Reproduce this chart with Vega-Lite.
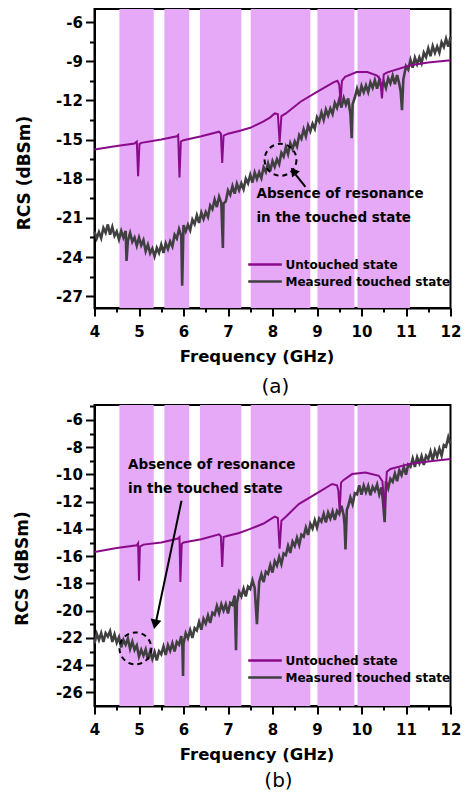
{
  "$schema": "https://vega.github.io/schema/vega-lite/v6.json",
  "padding": {"left": 12.5, "top": 8, "right": 0, "bottom": 0},
  "spacing": 6,
  "background": "white",
  "config": {
    "font": "DejaVu Sans",
    "view": {"stroke": "black", "strokeWidth": 2},
    "axis": {"grid": false, "domainColor": "black", "domainWidth": 2, "tickColor": "black", "tickWidth": 2, "labelColor": "black", "labelFont": "DejaVu Sans", "labelFontWeight": "bold", "labelFontSize": 15, "titleColor": "black", "titleFont": "DejaVu Sans", "titleFontWeight": "bold", "titleFontSize": 17, "zindex": 1, "labelFlush": false, "labelOverlap": false},
    "legend": {"orient": "none", "legendX": 162, "legendY": 247, "title": null, "symbolType": "M-2.4,0H2.4", "symbolSize": 196, "symbolStrokeWidth": 2.5, "labelFont": "DejaVu Sans", "labelFontWeight": "bold", "labelFontSize": 12, "labelColor": "black", "labelOffset": 12, "labelLimit": 0, "rowPadding": 2, "padding": 0}
  },
  "datasets": {
    "bands": [
      {"f": 4.56, "f2": 5.33}, {"f": 5.57, "f2": 6.13}, {"f": 6.37, "f2": 7.30},
      {"f": 7.51, "f2": 8.85}, {"f": 9.01, "f2": 9.84}, {"f": 9.91, "f2": 11.09}
    ],
    "aU": [
      {"f": 4.0, "v": -15.76}, {"f": 4.5, "v": -15.5}, {"f": 4.9, "v": -15.3}, {"f": 4.95, "v": -15.15}, {"f": 4.98, "v": -17.8}, {"f": 5.01, "v": -15.35}, {"f": 5.05, "v": -15.25}, {"f": 5.5, "v": -15.0}, {"f": 5.85, "v": -14.75}, {"f": 5.88, "v": -14.65}, {"f": 5.91, "v": -17.9}, {"f": 5.94, "v": -15.15}, {"f": 6.0, "v": -15.05}, {"f": 6.4, "v": -14.75}, {"f": 6.8, "v": -14.4}, {"f": 6.84, "v": -14.55}, {"f": 6.87, "v": -16.8}, {"f": 6.9, "v": -14.7}, {"f": 7.0, "v": -14.55}, {"f": 7.25, "v": -14.35}, {"f": 7.5, "v": -14.1}, {"f": 7.65, "v": -13.85}, {"f": 7.8, "v": -13.6}, {"f": 7.95, "v": -13.3}, {"f": 8.05, "v": -13.0}, {"f": 8.12, "v": -13.05}, {"f": 8.16, "v": -15.2}, {"f": 8.2, "v": -13.2}, {"f": 8.3, "v": -13.0}, {"f": 8.63, "v": -12.1}, {"f": 9.0, "v": -11.35}, {"f": 9.38, "v": -10.6}, {"f": 9.46, "v": -10.5}, {"f": 9.5, "v": -10.8}, {"f": 9.53, "v": -12.1}, {"f": 9.56, "v": -10.5}, {"f": 9.63, "v": -10.2}, {"f": 9.89, "v": -9.83}, {"f": 10.13, "v": -9.83}, {"f": 10.35, "v": -10.1}, {"f": 10.42, "v": -10.4}, {"f": 10.46, "v": -11.85}, {"f": 10.5, "v": -10.0}, {"f": 10.58, "v": -9.85}, {"f": 11.1, "v": -9.31}, {"f": 11.5, "v": -9.1}, {"f": 12.0, "v": -8.93}
    ],
    "aT": [
      {"f": 4.00, "v": -22.05}, {"f": 4.05, "v": -22.57}, {"f": 4.10, "v": -22.08}, {"f": 4.15, "v": -22.55}, {"f": 4.20, "v": -21.77}, {"f": 4.25, "v": -22.13}, {"f": 4.30, "v": -21.50}, {"f": 4.35, "v": -22.28}, {"f": 4.40, "v": -21.70}, {"f": 4.45, "v": -22.38}, {"f": 4.50, "v": -22.05}, {"f": 4.55, "v": -22.65}, {"f": 4.60, "v": -22.00}, {"f": 4.65, "v": -22.50}, {"f": 4.70, "v": -22.00}, {"f": 4.72, "v": -24.30}, {"f": 4.75, "v": -22.75}, {"f": 4.80, "v": -22.15}, {"f": 4.85, "v": -22.83}, {"f": 4.90, "v": -22.50}, {"f": 4.95, "v": -23.13}, {"f": 5.00, "v": -22.50}, {"f": 5.05, "v": -23.10}, {"f": 5.10, "v": -22.70}, {"f": 5.15, "v": -23.55}, {"f": 5.20, "v": -23.05}, {"f": 5.25, "v": -23.70}, {"f": 5.30, "v": -23.35}, {"f": 5.35, "v": -23.95}, {"f": 5.40, "v": -23.30}, {"f": 5.45, "v": -23.68}, {"f": 5.50, "v": -23.05}, {"f": 5.55, "v": -23.68}, {"f": 5.60, "v": -22.95}, {"f": 5.65, "v": -23.38}, {"f": 5.70, "v": -22.80}, {"f": 5.75, "v": -23.18}, {"f": 5.80, "v": -22.30}, {"f": 5.85, "v": -22.58}, {"f": 5.90, "v": -21.85}, {"f": 5.95, "v": -22.38}, {"f": 5.97, "v": -26.20}, {"f": 6.00, "v": -21.55}, {"f": 6.05, "v": -22.03}, {"f": 6.10, "v": -21.52}, {"f": 6.15, "v": -21.95}, {"f": 6.20, "v": -21.13}, {"f": 6.25, "v": -21.47}, {"f": 6.30, "v": -20.80}, {"f": 6.35, "v": -21.38}, {"f": 6.40, "v": -20.60}, {"f": 6.45, "v": -21.08}, {"f": 6.50, "v": -20.55}, {"f": 6.55, "v": -20.93}, {"f": 6.60, "v": -20.05}, {"f": 6.65, "v": -20.33}, {"f": 6.70, "v": -19.60}, {"f": 6.75, "v": -20.17}, {"f": 6.80, "v": -19.38}, {"f": 6.85, "v": -19.85}, {"f": 6.885, "v": -23.30}, {"f": 6.90, "v": -19.90}, {"f": 6.95, "v": -19.73}, {"f": 7.00, "v": -18.90}, {"f": 7.05, "v": -19.23}, {"f": 7.10, "v": -18.57}, {"f": 7.15, "v": -19.15}, {"f": 7.20, "v": -18.38}, {"f": 7.25, "v": -18.87}, {"f": 7.30, "v": -18.35}, {"f": 7.35, "v": -18.80}, {"f": 7.40, "v": -18.00}, {"f": 7.45, "v": -18.35}, {"f": 7.50, "v": -17.70}, {"f": 7.55, "v": -18.29}, {"f": 7.60, "v": -17.53}, {"f": 7.65, "v": -18.02}, {"f": 7.70, "v": -17.51}, {"f": 7.75, "v": -17.95}, {"f": 7.80, "v": -17.14}, {"f": 7.85, "v": -17.48}, {"f": 7.90, "v": -16.82}, {"f": 7.95, "v": -17.41}, {"f": 8.00, "v": -16.65}, {"f": 8.05, "v": -17.08}, {"f": 8.10, "v": -16.51}, {"f": 8.15, "v": -16.89}, {"f": 8.20, "v": -16.02}, {"f": 8.25, "v": -16.30}, {"f": 8.30, "v": -15.58}, {"f": 8.35, "v": -16.11}, {"f": 8.40, "v": -15.29}, {"f": 8.45, "v": -15.72}, {"f": 8.50, "v": -15.15}, {"f": 8.55, "v": -15.53}, {"f": 8.60, "v": -14.66}, {"f": 8.65, "v": -14.94}, {"f": 8.70, "v": -14.22}, {"f": 8.75, "v": -14.75}, {"f": 8.80, "v": -13.93}, {"f": 8.85, "v": -14.36}, {"f": 8.90, "v": -13.79}, {"f": 8.95, "v": -14.17}, {"f": 9.00, "v": -13.30}, {"f": 9.05, "v": -13.61}, {"f": 9.10, "v": -12.93}, {"f": 9.15, "v": -13.49}, {"f": 9.20, "v": -12.70}, {"f": 9.25, "v": -13.16}, {"f": 9.30, "v": -12.63}, {"f": 9.35, "v": -13.04}, {"f": 9.40, "v": -12.20}, {"f": 9.45, "v": -12.57}, {"f": 9.50, "v": -11.93}, {"f": 9.55, "v": -12.55}, {"f": 9.60, "v": -11.82}, {"f": 9.65, "v": -12.33}, {"f": 9.70, "v": -11.85}, {"f": 9.75, "v": -13.00}, {"f": 9.78, "v": -14.90}, {"f": 9.80, "v": -12.30}, {"f": 9.85, "v": -11.78}, {"f": 9.90, "v": -11.10}, {"f": 9.95, "v": -11.68}, {"f": 10.00, "v": -10.90}, {"f": 10.05, "v": -11.38}, {"f": 10.10, "v": -10.85}, {"f": 10.15, "v": -11.36}, {"f": 10.20, "v": -10.63}, {"f": 10.25, "v": -11.04}, {"f": 10.30, "v": -10.45}, {"f": 10.35, "v": -11.11}, {"f": 10.40, "v": -10.43}, {"f": 10.45, "v": -10.99}, {"f": 10.50, "v": -10.55}, {"f": 10.55, "v": -11.05}, {"f": 10.60, "v": -10.30}, {"f": 10.65, "v": -10.70}, {"f": 10.70, "v": -10.10}, {"f": 10.75, "v": -10.75}, {"f": 10.80, "v": -10.05}, {"f": 10.85, "v": -10.75}, {"f": 10.88, "v": -11.30}, {"f": 10.91, "v": -12.75}, {"f": 10.94, "v": -10.40}, {"f": 11.00, "v": -9.37}, {"f": 11.05, "v": -9.63}, {"f": 11.10, "v": -8.90}, {"f": 11.15, "v": -9.49}, {"f": 11.20, "v": -8.73}, {"f": 11.25, "v": -9.22}, {"f": 11.30, "v": -8.71}, {"f": 11.35, "v": -9.15}, {"f": 11.40, "v": -8.34}, {"f": 11.45, "v": -8.68}, {"f": 11.50, "v": -8.02}, {"f": 11.55, "v": -8.61}, {"f": 11.60, "v": -7.85}, {"f": 11.65, "v": -8.36}, {"f": 11.70, "v": -7.88}, {"f": 11.75, "v": -8.34}, {"f": 11.80, "v": -7.55}, {"f": 11.85, "v": -7.91}, {"f": 11.90, "v": -7.28}, {"f": 11.95, "v": -7.89}, {"f": 12.00, "v": -7.15}
    ],
    "bU": [
      {"f": 4.0, "v": -15.7}, {"f": 4.5, "v": -15.4}, {"f": 4.95, "v": -15.2}, {"f": 4.98, "v": -15.05}, {"f": 5.0, "v": -17.8}, {"f": 5.02, "v": -15.3}, {"f": 5.1, "v": -15.15}, {"f": 5.5, "v": -15.0}, {"f": 5.88, "v": -14.7}, {"f": 5.91, "v": -14.6}, {"f": 5.93, "v": -17.9}, {"f": 5.96, "v": -15.1}, {"f": 6.0, "v": -15.0}, {"f": 6.4, "v": -14.75}, {"f": 6.8, "v": -14.4}, {"f": 6.84, "v": -14.55}, {"f": 6.87, "v": -16.8}, {"f": 6.9, "v": -14.6}, {"f": 7.0, "v": -14.5}, {"f": 7.25, "v": -14.3}, {"f": 7.5, "v": -14.0}, {"f": 7.65, "v": -13.8}, {"f": 7.8, "v": -13.6}, {"f": 7.95, "v": -13.3}, {"f": 8.05, "v": -13.1}, {"f": 8.12, "v": -13.2}, {"f": 8.16, "v": -15.45}, {"f": 8.2, "v": -13.4}, {"f": 8.3, "v": -13.1}, {"f": 8.59, "v": -12.17}, {"f": 9.04, "v": -11.3}, {"f": 9.34, "v": -10.7}, {"f": 9.45, "v": -10.8}, {"f": 9.48, "v": -11.2}, {"f": 9.51, "v": -12.7}, {"f": 9.54, "v": -10.6}, {"f": 9.6, "v": -10.4}, {"f": 9.79, "v": -9.97}, {"f": 10.09, "v": -9.85}, {"f": 10.39, "v": -10.1}, {"f": 10.47, "v": -10.5}, {"f": 10.52, "v": -12.5}, {"f": 10.57, "v": -9.8}, {"f": 10.65, "v": -9.6}, {"f": 11.06, "v": -9.24}, {"f": 11.5, "v": -9.05}, {"f": 12.0, "v": -8.87}
    ],
    "bT": [
      {"f": 4.00, "v": -22.40}, {"f": 4.05, "v": -21.70}, {"f": 4.10, "v": -22.15}, {"f": 4.15, "v": -21.65}, {"f": 4.20, "v": -22.30}, {"f": 4.25, "v": -21.65}, {"f": 4.30, "v": -21.90}, {"f": 4.35, "v": -21.50}, {"f": 4.40, "v": -22.30}, {"f": 4.45, "v": -21.75}, {"f": 4.50, "v": -22.35}, {"f": 4.55, "v": -21.95}, {"f": 4.60, "v": -22.70}, {"f": 4.65, "v": -22.15}, {"f": 4.70, "v": -22.50}, {"f": 4.75, "v": -22.05}, {"f": 4.80, "v": -22.80}, {"f": 4.85, "v": -22.27}, {"f": 4.90, "v": -22.88}, {"f": 4.95, "v": -22.55}, {"f": 5.00, "v": -23.37}, {"f": 5.05, "v": -22.88}, {"f": 5.10, "v": -23.30}, {"f": 5.15, "v": -22.85}, {"f": 5.20, "v": -23.60}, {"f": 5.25, "v": -23.00}, {"f": 5.30, "v": -23.55}, {"f": 5.35, "v": -23.03}, {"f": 5.40, "v": -23.65}, {"f": 5.45, "v": -22.98}, {"f": 5.50, "v": -23.20}, {"f": 5.55, "v": -22.63}, {"f": 5.60, "v": -23.25}, {"f": 5.65, "v": -22.53}, {"f": 5.70, "v": -22.95}, {"f": 5.75, "v": -22.40}, {"f": 5.80, "v": -23.00}, {"f": 5.85, "v": -22.30}, {"f": 5.90, "v": -22.50}, {"f": 5.95, "v": -21.87}, {"f": 5.975, "v": -22.60}, {"f": 5.99, "v": -24.80}, {"f": 6.00, "v": -22.43}, {"f": 6.05, "v": -21.65}, {"f": 6.10, "v": -22.02}, {"f": 6.15, "v": -21.43}, {"f": 6.20, "v": -22.00}, {"f": 6.25, "v": -21.28}, {"f": 6.30, "v": -21.45}, {"f": 6.35, "v": -20.83}, {"f": 6.40, "v": -21.40}, {"f": 6.45, "v": -20.60}, {"f": 6.50, "v": -20.95}, {"f": 6.55, "v": -20.35}, {"f": 6.60, "v": -20.90}, {"f": 6.65, "v": -20.15}, {"f": 6.70, "v": -20.30}, {"f": 6.75, "v": -19.65}, {"f": 6.80, "v": -20.20}, {"f": 6.85, "v": -19.53}, {"f": 6.90, "v": -20.00}, {"f": 6.95, "v": -19.53}, {"f": 7.00, "v": -20.20}, {"f": 7.05, "v": -19.43}, {"f": 7.10, "v": -19.57}, {"f": 7.15, "v": -18.90}, {"f": 7.18, "v": -22.90}, {"f": 7.20, "v": -19.43}, {"f": 7.25, "v": -18.62}, {"f": 7.30, "v": -18.95}, {"f": 7.35, "v": -18.38}, {"f": 7.40, "v": -18.95}, {"f": 7.45, "v": -18.23}, {"f": 7.50, "v": -18.40}, {"f": 7.55, "v": -17.77}, {"f": 7.60, "v": -18.33}, {"f": 7.65, "v": -21.00}, {"f": 7.70, "v": -17.92}, {"f": 7.75, "v": -17.33}, {"f": 7.80, "v": -17.90}, {"f": 7.85, "v": -17.15}, {"f": 7.90, "v": -17.30}, {"f": 7.95, "v": -16.65}, {"f": 8.00, "v": -17.20}, {"f": 8.05, "v": -16.37}, {"f": 8.10, "v": -16.69}, {"f": 8.15, "v": -16.06}, {"f": 8.20, "v": -16.58}, {"f": 8.25, "v": -15.80}, {"f": 8.30, "v": -15.92}, {"f": 8.35, "v": -15.24}, {"f": 8.40, "v": -15.76}, {"f": 8.45, "v": -14.93}, {"f": 8.50, "v": -15.25}, {"f": 8.55, "v": -14.64}, {"f": 8.60, "v": -15.18}, {"f": 8.65, "v": -14.42}, {"f": 8.70, "v": -14.56}, {"f": 8.75, "v": -13.90}, {"f": 8.80, "v": -14.44}, {"f": 8.85, "v": -13.63}, {"f": 8.90, "v": -13.97}, {"f": 8.95, "v": -13.36}, {"f": 9.00, "v": -13.90}, {"f": 9.05, "v": -13.23}, {"f": 9.10, "v": -13.46}, {"f": 9.15, "v": -12.89}, {"f": 9.20, "v": -13.52}, {"f": 9.25, "v": -12.80}, {"f": 9.30, "v": -13.23}, {"f": 9.35, "v": -12.71}, {"f": 9.40, "v": -13.34}, {"f": 9.45, "v": -12.67}, {"f": 9.50, "v": -12.90}, {"f": 9.55, "v": -12.30}, {"f": 9.60, "v": -13.00}, {"f": 9.62, "v": -13.70}, {"f": 9.64, "v": -15.50}, {"f": 9.67, "v": -12.60}, {"f": 9.70, "v": -12.34}, {"f": 9.75, "v": -11.68}, {"f": 9.80, "v": -12.18}, {"f": 9.85, "v": -11.37}, {"f": 9.90, "v": -11.46}, {"f": 9.95, "v": -10.80}, {"f": 10.00, "v": -11.48}, {"f": 10.05, "v": -10.82}, {"f": 10.10, "v": -11.31}, {"f": 10.15, "v": -10.84}, {"f": 10.20, "v": -11.53}, {"f": 10.25, "v": -10.91}, {"f": 10.30, "v": -11.20}, {"f": 10.35, "v": -10.73}, {"f": 10.40, "v": -11.47}, {"f": 10.45, "v": -10.95}, {"f": 10.48, "v": -11.90}, {"f": 10.52, "v": -13.50}, {"f": 10.55, "v": -10.50}, {"f": 10.60, "v": -11.02}, {"f": 10.65, "v": -10.32}, {"f": 10.70, "v": -10.54}, {"f": 10.75, "v": -9.93}, {"f": 10.80, "v": -10.49}, {"f": 10.85, "v": -9.70}, {"f": 10.90, "v": -10.06}, {"f": 10.95, "v": -9.46}, {"f": 11.00, "v": -10.02}, {"f": 11.05, "v": -9.28}, {"f": 11.10, "v": -9.44}, {"f": 11.15, "v": -8.83}, {"f": 11.20, "v": -9.44}, {"f": 11.25, "v": -8.73}, {"f": 11.30, "v": -9.17}, {"f": 11.35, "v": -8.66}, {"f": 11.40, "v": -9.30}, {"f": 11.45, "v": -8.63}, {"f": 11.50, "v": -8.87}, {"f": 11.55, "v": -8.31}, {"f": 11.60, "v": -8.95}, {"f": 11.65, "v": -8.24}, {"f": 11.70, "v": -8.68}, {"f": 11.75, "v": -8.11}, {"f": 11.80, "v": -8.62}, {"f": 11.85, "v": -7.84}, {"f": 11.90, "v": -7.95}, {"f": 11.95, "v": -7.27}, {"f": 12.00, "v": -7.80}
    ]
  },
  "resolve": {"legend": {"color": "independent"}, "scale": {"color": "independent"}},
  "vconcat": [
    {
      "width": 356, "height": 299,
      "title": {"text": "(a)", "orient": "bottom", "anchor": "middle", "frame": "group", "fontSize": 20, "fontWeight": "normal", "font": "DejaVu Sans", "offset": 12, "dx": 3, "color": "black"},
      "resolve": {"axis": {"x": "independent", "y": "independent"}},
      "layer": [
        {
          "data": {"name": "bands"},
          "mark": {"type": "rect", "color": "#E5A9F7"},
          "encoding": {
            "x": {"field": "f", "type": "quantitative", "scale": {"domain": [4, 12], "nice": false, "zero": false},
                  "axis": {"values": [4, 5, 6, 7, 8, 9, 10, 11, 12], "tickSize": 8, "labelPadding": 8, "title": "Frequency (GHz)", "titleX": 162, "titleY": 53.5, "titleBaseline": "alphabetic", "titleFontSize": 16.5, "format": "d"}},
            "x2": {"field": "f2"}
          }
        },
        {
          "data": {"name": "aT"},
          "mark": {"type": "line", "strokeWidth": 2.6, "interpolate": "linear"},
          "encoding": {
            "x": {"field": "f", "type": "quantitative", "axis": {"orient": "bottom", "values": [4.5, 5.5, 6.5, 7.5, 8.5, 9.5, 10.5, 11.5], "tickSize": 4, "labels": false, "domain": false, "title": null}},
            "y": {"field": "v", "type": "quantitative", "scale": {"domain": [-27.9, -5], "nice": false, "zero": false},
                  "axis": {"values": [-27, -24, -21, -18, -15, -12, -9, -6], "tickSize": 9, "labelPadding": 3, "labelExpr": "datum.value < 0 ? '-' + abs(datum.value) : '' + datum.value", "title": "RCS (dBSm)", "titleX": -65.5, "titleY": 163.5, "titleBaseline": "alphabetic"}},
            "color": {"datum": "Measured touched state", "type": "nominal", "scale": {"domain": ["Untouched state", "Measured touched state"], "range": ["#8A0B8A", "#404040"]}}
          }
        },
        {
          "data": {"name": "aU"},
          "mark": {"type": "line", "strokeWidth": 2, "interpolate": "linear"},
          "encoding": {
            "x": {"field": "f", "type": "quantitative", "axis": null},
            "y": {"field": "v", "type": "quantitative", "axis": {"orient": "left", "values": [-25.5, -22.5, -19.5, -16.5, -13.5, -10.5, -7.5], "tickSize": 5, "labels": false, "domain": false, "title": null}},
            "color": {"datum": "Untouched state", "type": "nominal", "scale": {"domain": ["Untouched state", "Measured touched state"], "range": ["#8A0B8A", "#404040"]}}
          }
        },
        {
          "data": {"values": [{}]},
          "mark": {"type": "point", "shape": "circle", "size": 1018, "filled": false, "stroke": "black", "strokeWidth": 2, "strokeDash": [5, 4], "opacity": 1},
          "encoding": {"x": {"datum": 8.18, "type": "quantitative", "axis": null}, "y": {"datum": -16.55, "type": "quantitative", "axis": null}}
        },
        {
          "data": {"values": [{}]},
          "mark": {"type": "rule", "strokeWidth": 2, "color": "black"},
          "encoding": {"x": {"datum": 8.74, "type": "quantitative", "axis": null}, "y": {"datum": -18.62, "type": "quantitative", "axis": null}, "x2": {"datum": 8.49}, "y2": {"datum": -17.55}}
        },
        {
          "data": {"values": [{}]},
          "mark": {"type": "point", "shape": "triangle-up", "size": 95, "filled": true, "color": "black", "opacity": 1, "angle": 323},
          "encoding": {"x": {"datum": 8.47, "type": "quantitative", "axis": null}, "y": {"datum": -17.42, "type": "quantitative", "axis": null}}
        },
        {
          "data": {"values": [{}]},
          "mark": {"type": "text", "text": "Absence of resonance", "align": "left", "baseline": "alphabetic", "font": "DejaVu Sans", "fontWeight": "bold", "fontSize": 13.5, "color": "black"},
          "encoding": {"x": {"datum": 7.64, "type": "quantitative", "axis": null}, "y": {"datum": -19.44, "type": "quantitative", "axis": null}}
        },
        {
          "data": {"values": [{}]},
          "mark": {"type": "text", "text": "in the touched state", "align": "left", "baseline": "alphabetic", "font": "DejaVu Sans", "fontWeight": "bold", "fontSize": 13.5, "color": "black"},
          "encoding": {"x": {"datum": 7.64, "type": "quantitative", "axis": null}, "y": {"datum": -21.3, "type": "quantitative", "axis": null}}
        }
      ]
    },
    {
      "width": 356, "height": 301,
      "title": {"text": "(b)", "orient": "bottom", "anchor": "middle", "frame": "group", "fontSize": 20, "fontWeight": "normal", "font": "DejaVu Sans", "offset": 8, "dx": 6, "color": "black"},
      "resolve": {"axis": {"x": "independent", "y": "independent"}},
      "layer": [
        {
          "data": {"name": "bands"},
          "mark": {"type": "rect", "color": "#E5A9F7"},
          "encoding": {
            "x": {"field": "f", "type": "quantitative", "scale": {"domain": [4, 12], "nice": false, "zero": false},
                  "axis": {"values": [4, 5, 6, 7, 8, 9, 10, 11, 12], "tickSize": 8, "labelPadding": 8, "title": "Frequency (GHz)", "titleX": 162, "titleY": 53.5, "titleBaseline": "alphabetic", "titleFontSize": 16.5, "format": "d"}},
            "x2": {"field": "f2"}
          }
        },
        {
          "data": {"name": "bT"},
          "mark": {"type": "line", "strokeWidth": 2.6, "interpolate": "linear"},
          "encoding": {
            "x": {"field": "f", "type": "quantitative", "axis": {"orient": "bottom", "values": [4.5, 5.5, 6.5, 7.5, 8.5, 9.5, 10.5, 11.5], "tickSize": 4, "labels": false, "domain": false, "title": null}},
            "y": {"field": "v", "type": "quantitative", "scale": {"domain": [-27, -4.9], "nice": false, "zero": false},
                  "axis": {"values": [-26, -24, -22, -20, -18, -16, -14, -12, -10, -8, -6], "tickSize": 9, "labelPadding": 3, "labelExpr": "datum.value < 0 ? '-' + abs(datum.value) : '' + datum.value", "title": "RCS (dBSm)", "titleX": -67, "titleY": 163, "titleBaseline": "alphabetic"}},
            "color": {"datum": "Measured touched state", "type": "nominal", "scale": {"domain": ["Untouched state", "Measured touched state"], "range": ["#8A0B8A", "#404040"]}}
          }
        },
        {
          "data": {"name": "bU"},
          "mark": {"type": "line", "strokeWidth": 2, "interpolate": "linear"},
          "encoding": {
            "x": {"field": "f", "type": "quantitative", "axis": null},
            "y": {"field": "v", "type": "quantitative", "axis": {"orient": "left", "values": [-25, -23, -21, -19, -17, -15, -13, -11, -9, -7, -5], "tickSize": 5, "labels": false, "domain": false, "title": null}},
            "color": {"datum": "Untouched state", "type": "nominal", "scale": {"domain": ["Untouched state", "Measured touched state"], "range": ["#8A0B8A", "#404040"]}}
          }
        },
        {
          "data": {"values": [{}]},
          "mark": {"type": "point", "shape": "circle", "size": 1018, "filled": false, "stroke": "black", "strokeWidth": 2, "strokeDash": [5, 4], "opacity": 1},
          "encoding": {"x": {"datum": 4.92, "type": "quantitative", "axis": null}, "y": {"datum": -22.77, "type": "quantitative", "axis": null}}
        },
        {
          "data": {"values": [{}]},
          "mark": {"type": "rule", "strokeWidth": 2, "color": "black"},
          "encoding": {"x": {"datum": 5.955, "type": "quantitative", "axis": null}, "y": {"datum": -11.93, "type": "quantitative", "axis": null}, "x2": {"datum": 5.38}, "y2": {"datum": -20.85}}
        },
        {
          "data": {"values": [{}]},
          "mark": {"type": "point", "shape": "triangle-up", "size": 120, "filled": true, "color": "black", "opacity": 1, "angle": 192},
          "encoding": {"x": {"datum": 5.36, "type": "quantitative", "axis": null}, "y": {"datum": -21.0, "type": "quantitative", "axis": null}}
        },
        {
          "data": {"values": [{}]},
          "mark": {"type": "text", "text": "Absence of resonance", "align": "left", "baseline": "alphabetic", "font": "DejaVu Sans", "fontWeight": "bold", "fontSize": 13.5, "color": "black"},
          "encoding": {"x": {"datum": 4.755, "type": "quantitative", "axis": null}, "y": {"datum": -9.61, "type": "quantitative", "axis": null}}
        },
        {
          "data": {"values": [{}]},
          "mark": {"type": "text", "text": "in the touched state", "align": "left", "baseline": "alphabetic", "font": "DejaVu Sans", "fontWeight": "bold", "fontSize": 13.5, "color": "black"},
          "encoding": {"x": {"datum": 4.755, "type": "quantitative", "axis": null}, "y": {"datum": -11.38, "type": "quantitative", "axis": null}}
        }
      ]
    }
  ]
}
